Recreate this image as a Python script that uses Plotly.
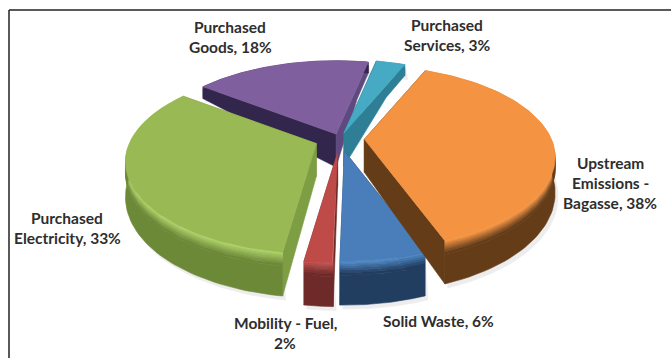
import numpy as np
import plotly.graph_objects as go

categories = ["Upstream Emissions - Bagasse", "Solid Waste", "Mobility - Fuel",
              "Purchased Electricity", "Purchased Goods", "Purchased Services"]
values = [38, 6, 2, 33, 18, 3]
label_lines = [["Upstream", "Emissions -", "Bagasse, {v}%"], ["Solid Waste, {v}%"],
               ["Mobility - Fuel,", "{v}%"], ["Purchased", "Electricity, {v}%"],
               ["Purchased", "Goods, {v}%"], ["Purchased", "Services, {v}%"]]

# styling / geometry (separate from the data)
START = 22.7
CX, CY = 340, 139
R, A, P = 187, 88, 0.2
explode = [0.13, 0.14, 0.155, 0.137, 0.06, 0.07]
top_col = ["#F49341", "#4A7EBB", "#BE4B48", "#98B954", "#7F5F9E", "#46AAC4"]
wall_col = ["#653C18", "#213D60", "#6E2A28", "#6C8938", "#33264C", "#2E7F96"]
hi_col = ["#F49341", "#5089C6", "#C25451", "#ADD267", "#6A5288", "#46AAC4"]
start_wall = ["#653C18", "#213D60", "#6E2A28", "#7E9E44", "#33264C", "#2E7F96"]
end_wall = ["#653C18", "#213D60", "#6E2A28", "#7E9E44", "#5F4A80", "#2E7F96"]
label_pos = [(610, 163), (438, 321), (285, 323), (67, 218), (230, 27), (447, 25)]
draw_order = [4, 5, 2, 1, 3, 0]


def depth(y):
    return np.where(y > 0, np.maximum(33 - 35 * y, 11), 33 - 11 * y)


def project(ax, ay, r, theta, z):
    t = np.radians(theta)
    X, Y = r * np.sin(t), r * np.cos(t)
    s = 1 / (1 + P * Y)
    return ax + R * X * s, ay - A * Y * s + z * depth(Y)


def mix(c1, c2, f):
    a = [int(c1[i:i + 2], 16) for i in (1, 3, 5)]
    b = [int(c2[i:i + 2], 16) for i in (1, 3, 5)]
    return "rgb(%d,%d,%d)" % tuple(round(x + (y - x) * f) for x, y in zip(a, b))


def poly(fig, x, y, color):
    fig.add_trace(go.Scatter(x=list(x) + [x[0]], y=list(y) + [y[0]], mode="lines", fill="toself",
                             fillcolor=color, line=dict(color=color, width=0.6),
                             hoverinfo="skip", showlegend=False))


fig = go.Figure()
bounds = np.cumsum([0] + values) / sum(values) * 360 + START

for i in draw_order:
    a0, a1 = bounds[i], bounds[i + 1]
    mid = np.radians((a0 + a1) / 2)
    ax = CX + explode[i] * R * np.sin(mid)
    ay = CY - explode[i] * A * np.cos(mid)
    th = np.linspace(a0, a1, 80)
    r = np.linspace(0, 1, 24)

    # soft shadow under the outer rim
    sx, sy = project(ax, ay, np.ones_like(th), th, 1.0)
    x0, y0 = project(ax, ay, np.ones_like(th), th, 0.0)
    poly(fig, np.r_[x0, (sx + 3)[::-1]], np.r_[y0, (sy + 4)[::-1]], "#EDEDED")

    # radial walls
    for ang, col in ((a0, start_wall[i]), (a1, end_wall[i])):
        tx, ty = project(ax, ay, r, np.full_like(r, ang), 0.0)
        bx, by = project(ax, ay, r, np.full_like(r, ang), 1.0)
        poly(fig, np.r_[tx, bx[::-1]], np.r_[ty, by[::-1]], col)

    # outer wall, banded from highlight to wall colour
    edges = [0, 0.05, 0.1, 0.15, 0.2, 0.26, 0.32, 1.0]
    for k in range(len(edges) - 1):
        ux, uy = project(ax, ay, np.ones_like(th), th, edges[k])
        lx, ly = project(ax, ay, np.ones_like(th), th, edges[k + 1])
        poly(fig, np.r_[ux, lx[::-1]], np.r_[uy, ly[::-1]],
             mix(hi_col[i], wall_col[i], min(k / 5, 1)))

    # top face
    ex, ey = project(ax, ay, np.ones_like(th), th, 0.0)
    poly(fig, np.r_[ax, ex], np.r_[ay, ey], top_col[i])

for i, lines in enumerate(label_lines):
    for j, line in enumerate(lines):
        fig.add_annotation(x=label_pos[i][0], y=label_pos[i][1] + 20 * j,
                           text=line.format(v=values[i]), showarrow=False,
                           font=dict(family="Lato", size=15.5, color="#2E2E2E", weight="bold"),
                           xanchor="center", yanchor="middle")

fig.update_layout(
    width=671, height=358, margin=dict(l=0, r=0, t=0, b=0),
    paper_bgcolor="white", plot_bgcolor="white",
    xaxis=dict(range=[0, 671], visible=False, fixedrange=True),
    yaxis=dict(range=[358, 0], visible=False, fixedrange=True),
    shapes=[
        dict(type="line", xref="paper", yref="paper", x0=9 / 671, x1=1, y0=1 - 10 / 358, y1=1 - 10 / 358,
             line=dict(color="#222222", width=1.5)),
        dict(type="line", xref="paper", yref="paper", x0=9 / 671, x1=9 / 671, y0=0, y1=1 - 10 / 358,
             line=dict(color="#222222", width=1.5)),
    ],
)
fig.write_html("out.html", config={"displayModeBar": False},
               post_script="document.body.style.margin='0';document.body.style.overflow='hidden';")
